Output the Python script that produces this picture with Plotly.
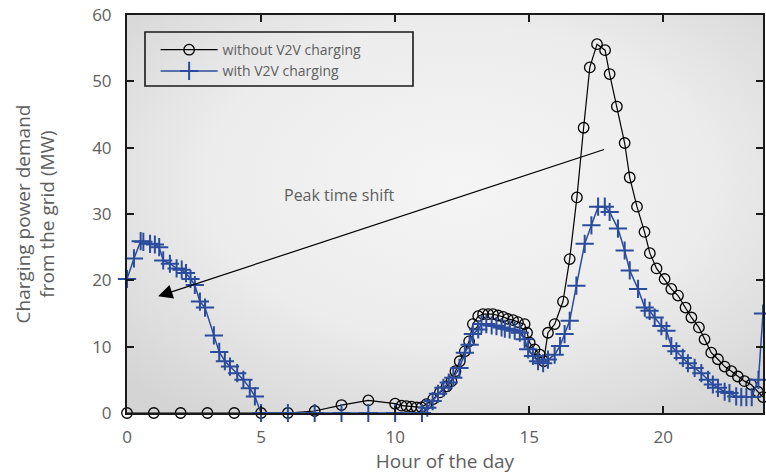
import base64
import plotly.graph_objects as go

# ---- data ----
hours_without = [0, 1, 2, 3, 4, 5, 6, 7, 8, 9, 10,
                 10.24, 10.42, 10.61, 10.8, 10.98, 11.17, 11.42, 11.67, 11.92, 12.1,
                 12.25, 12.41, 12.6, 12.76, 12.9, 13.1, 13.28, 13.47, 13.65, 13.84,
                 14.03, 14.2, 14.4, 14.58, 14.83, 14.92, 15.02, 15.2, 15.4, 15.54,
                 15.7, 15.95, 16.26, 16.51, 16.78, 17.03, 17.26, 17.53, 17.83, 18.0,
                 18.27, 18.56, 18.75, 19.02, 19.3, 19.5, 19.75, 20.05, 20.3, 20.55,
                 20.83, 21.05, 21.33, 21.54, 21.79, 22.04, 22.29, 22.54, 22.78, 23.03,
                 23.28, 23.53, 23.72]
demand_without = [0, 0, 0, 0, 0, 0, 0, 0.3, 1.2, 1.9, 1.4,
                  1.1, 1.05, 0.95, 0.85, 0.85, 1.35, 2.1, 3.1, 4.0, 4.8,
                  6.3, 7.8, 9.3, 10.8, 13.4, 14.6, 14.9, 14.9, 14.9, 14.7,
                  14.5, 14.2, 14.0, 13.7, 13.4, 12.1, 10.6, 9.6, 8.8, 7.8,
                  12.1, 13.4, 16.8, 23.2, 32.5, 43.0, 52.1, 55.6, 54.7, 51.1,
                  46.2, 40.7, 35.5, 31.1, 27.3, 24.1, 21.8, 20.2, 18.7, 17.7,
                  15.9, 14.4, 12.9, 11.1, 9.1, 8.1, 7.0, 6.3, 5.5, 4.8,
                  4.3, 3.2, 2.4]

hours_with = [0, 0.26, 0.51, 0.61, 0.86, 1.04, 1.2, 1.35, 1.6, 1.85,
              2.04, 2.2, 2.37, 2.53, 2.72, 2.91, 3.24, 3.44, 3.65, 3.84,
              4.11, 4.34, 4.58, 4.77, 5.0, 6, 7, 8, 9, 10,
              11, 11.2, 11.4, 11.6, 11.8, 12.0, 12.17, 12.4, 12.6, 12.78,
              12.9, 13.1, 13.22, 13.4, 13.6, 13.78, 13.97, 14.09, 14.27, 14.46,
              14.65, 14.83, 14.96, 15.14, 15.33, 15.52, 15.7, 15.95, 16.15, 16.32,
              16.51, 16.76, 17.07, 17.32, 17.57, 17.82, 18.0, 18.31, 18.56, 18.75,
              19.06, 19.31, 19.49, 19.68, 19.93, 20.12, 20.3, 20.49, 20.73, 20.92,
              21.17, 21.42, 21.67, 21.85, 22.04, 22.29, 22.47, 22.72, 22.91, 23.1,
              23.3, 23.55, 23.72]
demand_with = [20.2, 23.3, 25.9, 25.8, 25.5, 25.4, 25.0, 23.0, 22.5, 21.8,
               21.6, 21.1, 20.2, 19.3, 16.8, 15.9, 11.7, 9.2, 7.8, 7.0,
               6.0, 5.0, 3.75, 2.5, 0, 0, 0, 0, 0, 0,
               0, 0.8, 1.8, 2.9, 3.8, 4.6, 5.3, 6.8, 9.1, 10.3,
               11.9, 12.6, 13.4, 13.4, 13.2, 13.1, 12.9, 12.7, 12.6, 12.4,
               12.1, 11.1, 9.6, 8.6, 7.8, 7.5, 8.05, 8.8, 10.1, 11.9,
               13.9, 19.2, 25.5, 28.3, 31.1, 31.1, 30.3, 27.8, 24.5, 21.5,
               18.7, 15.9, 15.4, 14.4, 13.1, 12.4, 10.1, 9.3, 8.3, 7.5,
               6.8, 6.0, 5.0, 4.3, 3.8, 3.2, 3.0, 2.5, 2.4, 2.4,
               2.4, 5.0, 15.0]

x_ticks = [0, 5, 10, 15, 20]
y_ticks = [0, 10, 20, 30, 40, 50, 60]

assert len(hours_without) == len(demand_without)
assert len(hours_with) == len(demand_with)

FONT = "Open Sans"
GRAY = "#5e5e5e"
BLUE = "#2b4c9c"

fig = go.Figure()
fig.add_trace(go.Scatter(
    x=hours_without, y=demand_without, mode="lines+markers",
    name="without V2V charging",
    line=dict(color="black", width=1.2),
    marker=dict(symbol="circle-open", size=10.5, color="black", line=dict(width=1.3)),
    cliponaxis=False,
))
fig.add_trace(go.Scatter(
    x=hours_with, y=demand_with, mode="lines+markers",
    name="with V2V charging",
    line=dict(color=BLUE, width=1.5),
    marker=dict(symbol="cross-thin-open", size=13, color=BLUE, line=dict(width=2, color=BLUE)),
    cliponaxis=False,
))

# radial gradient background for the plotting area
svg = ('<svg xmlns="http://www.w3.org/2000/svg" width="636" height="398" viewBox="0 0 636 398" '
       'preserveAspectRatio="none"><defs><radialGradient id="g" cx="0.52" cy="0.42" r="0.72">'
       '<stop offset="0" stop-color="#f5f5f5"/><stop offset="0.55" stop-color="#ececec"/>'
       '<stop offset="1" stop-color="#d4d4d4"/></radialGradient></defs>'
       '<rect width="636" height="398" fill="url(#g)"/></svg>')
src = "data:image/svg+xml;base64," + base64.b64encode(svg.encode()).decode()

fig.update_layout(
    width=766, height=474,
    margin=dict(l=127, r=3, t=15, b=61, autoexpand=False),
    paper_bgcolor="white", plot_bgcolor="#eaeaea",
    font=dict(family=FONT, color=GRAY, size=17),
    showlegend=True,
    legend=dict(x=0.045, y=0.952, xanchor="left", yanchor="top",
                bgcolor="rgba(0,0,0,0)", borderwidth=0,
                font=dict(family=FONT, size=14, color=GRAY),
                itemwidth=57, tracegroupgap=0),
    images=[dict(source=src, xref="paper", yref="paper", x=0, y=1, sizex=1, sizey=1,
                 sizing="stretch", layer="below", xanchor="left", yanchor="top")],
    shapes=[dict(type="rect", xref="paper", yref="paper",
                 x0=(145 - 127) / 636, x1=(413 - 127) / 636,
                 y0=(413 - 86) / 398, y1=(413 - 32) / 398,
                 line=dict(color="#1a1a1a", width=1.6), fillcolor="rgba(0,0,0,0)")],
    annotations=[
        dict(x=7.94, y=32.8, xref="x", yref="y", text="Peak time shift", showarrow=False,
             font=dict(family=FONT, size=16, color=GRAY)),
        dict(x=1.16, y=17.6, xref="x", yref="y", ax=17.85, ay=39.8, axref="x", ayref="y",
             text="", showarrow=True, arrowhead=2, arrowsize=2.4, arrowwidth=1.2,
             arrowcolor="black"),
    ],
)
fig.update_xaxes(range=[0, 23.72], tickvals=x_ticks, ticktext=[str(v) for v in x_ticks],
                 automargin=False,
                 ticks="inside", ticklen=7, tickwidth=1.5, tickcolor="#1a1a1a",
                 showline=True, linecolor="#1a1a1a", linewidth=2, mirror="allticks",
                 showgrid=False, zeroline=False, ticklabelstandoff=8,
                 tickfont=dict(family=FONT, size=17, color=GRAY),
                 title=dict(text="Hour of the day", font=dict(family=FONT, size=19, color=GRAY),
                            standoff=13))
fig.update_yaxes(range=[0, 60], tickvals=y_ticks, ticktext=[str(v) for v in y_ticks],
                 automargin=False,
                 ticks="inside", ticklen=7, tickwidth=1.5, tickcolor="#1a1a1a",
                 showline=True, linecolor="#1a1a1a", linewidth=2, mirror="allticks",
                 showgrid=False, zeroline=False, ticklabelstandoff=10,
                 tickfont=dict(family=FONT, size=17, color=GRAY),
                 title=dict(text="Charging power demand<br>from the grid (MW)",
                            font=dict(family=FONT, size=19, color=GRAY), standoff=32))

fig.write_html("out.html", config={"displayModeBar": False},
               post_script="document.body.style.margin='0';")
